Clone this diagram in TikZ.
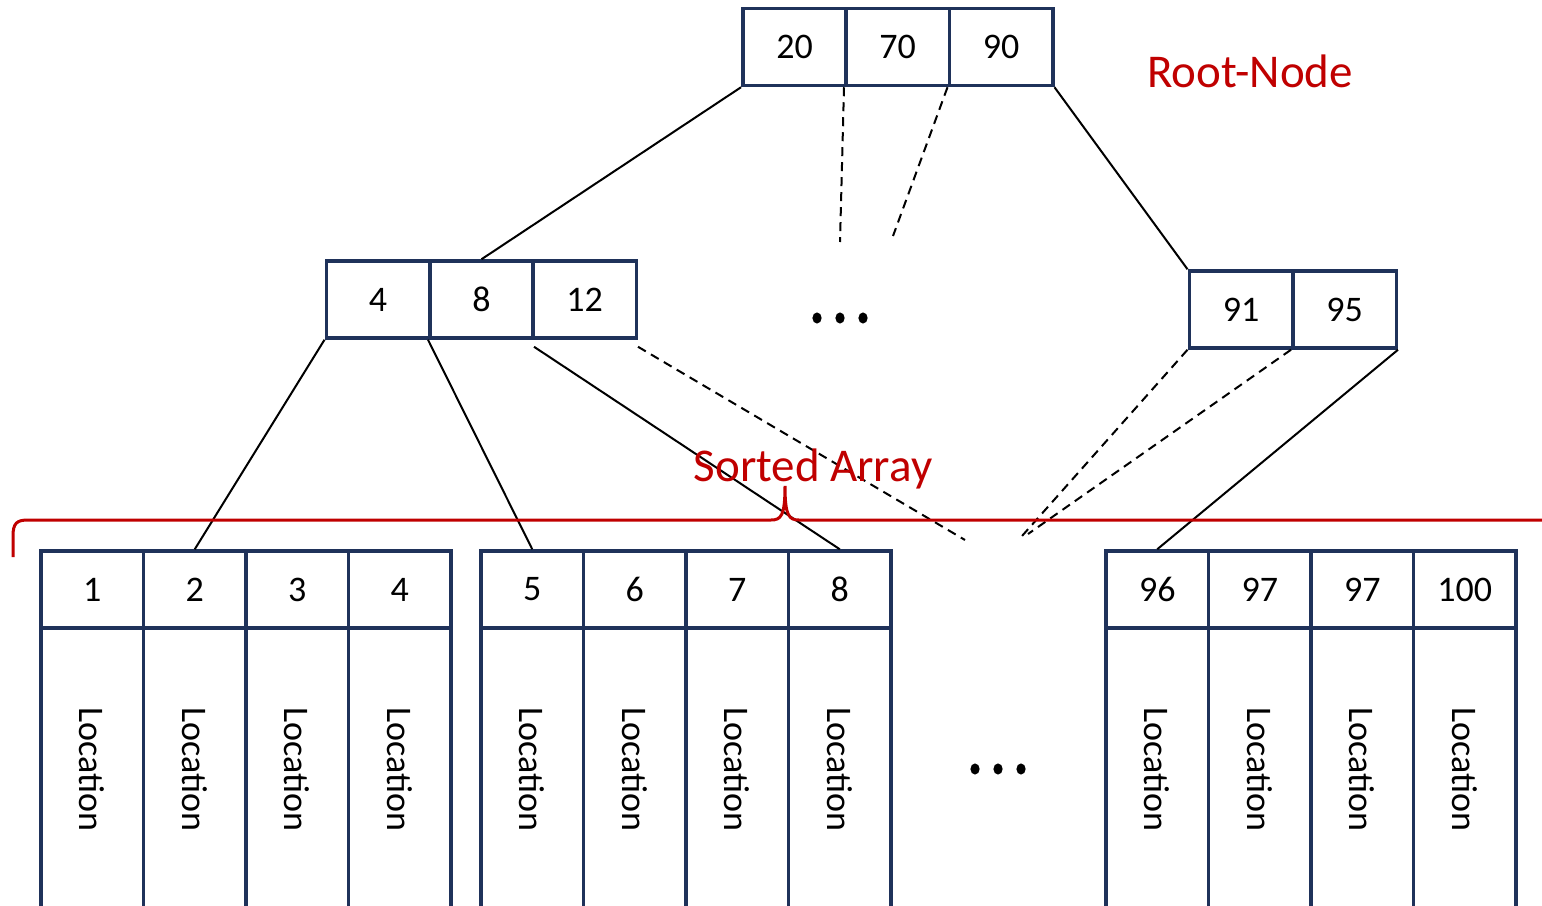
\documentclass[tikz,border=0pt]{standalone}
\usepackage{fontspec}
\setmainfont{Carlito}
\usetikzlibrary{calc}
\definecolor{navy}{RGB}{31,50,90}
\definecolor{brick}{RGB}{192,0,0}
\tikzset{
  cell/.style={draw=navy, line width=3.5pt, minimum width=103.5pt, minimum height=77pt,
               inner sep=0pt, font=\fontsize{36}{40}\selectfont},
  leafkey/.style={cell, minimum width=102.5pt},
  locbox/.style={draw=navy, line width=3.5pt, rotate=-90, minimum width=282pt,
                 minimum height=102.5pt, inner sep=0pt, font=\fontsize{36}{40}\selectfont},
  link/.style={line width=2pt, black},
  weak/.style={line width=2pt, black, dash pattern=on 9pt off 6pt},
  note/.style={text=brick, font=\fontsize{47}{52}\selectfont, inner sep=0pt},
  dot/.style={fill=black, x radius=4.6pt, y radius=5.6pt}
}
\begin{document}
\begin{tikzpicture}[x=1pt, y=-1pt]
\clip (0,0) rectangle (1542,905);
\fill[white] (0,0) rectangle (1542,905);

% root node
\node[cell] (r1) at (794.5,47) {20};
\node[cell] (r2) at (897.5,47) {70};
\node[cell] (r3) at (1001,47) {90};

% inner nodes
\node[cell] (a1) at (378,299.5) {4};
\node[cell] (a2) at (481.5,299.5) {8};
\node[cell] (a3) at (584.5,299.5) {12};
\node[cell] (b1) at (1241,309.5) {91};
\node[cell] (b2) at (1344.5,309.5) {95};

% leaf arrays: key cell above, location column below
\foreach \nm/\xl/\k in {l1a/41/1, l1b/143.5/2, l1c/246/3, l1d/348.5/4,
                       l2a/481/5, l2b/583.5/6, l2c/686/7, l2d/788.5/8,
                       l3a/1106/96, l3b/1208.5/97, l3c/1311/97, l3d/1413.5/100}{
  \node[leafkey] (\nm) at (\xl+51.25,589.5) {\k};
  \node[locbox] (\nm loc) at (\xl+51.25,769) {Location};
}

% free ends of the elided links
\coordinate (e1) at (840,242);
\coordinate (e2) at (893,236);
\coordinate (e3) at (965,540);
\coordinate (e4) at (1022,536);
\coordinate (e5) at (1028,534);

% links from the root
\draw[link] (r1.south west) -- (a2.north);
\draw[weak] (r2.south west) -- (e1);
\draw[weak] (r3.south west) -- (e2);
\draw[link] (r3.south east) -- (b1.north west);

% links from the inner nodes
\draw[link] (a1.south west) -- (l1b.north);
\draw[link] (a2.south west) -- (l2a.north);
\draw[link] ([shift={(3,7)}]a3.south west) -- (l2d.north);
\draw[weak] ([shift={(0,7)}]a3.south east) -- (e3);
\draw[weak] (b1.south west) -- (e4);
\draw[weak] (b2.south west) -- (e5);
\draw[link] (b2.south east) -- (l3a.north);

% ellipses
\foreach \x in {817,840,863}{\fill[dot] (\x,318) ellipse [];}
\foreach \x in {975,998,1021}{\fill[dot] (\x,769) ellipse [];}

% brace over the sorted array
\draw[brick, line width=3pt]
  (13,557) -- (13,536) .. controls (13,523) and (17,520) .. (28,520)
  -- (771,520) .. controls (781,520) and (785,516) .. (785,486)
  .. controls (785,516) and (789,520) .. (799,520) -- (1550,520);

% labels
\node[note, anchor=base] (lbsorted) at (813,481) {Sorted Array};
\node[note, anchor=base] (lbroot) at (1250,87) {Root-Node};
\end{tikzpicture}
\end{document}
